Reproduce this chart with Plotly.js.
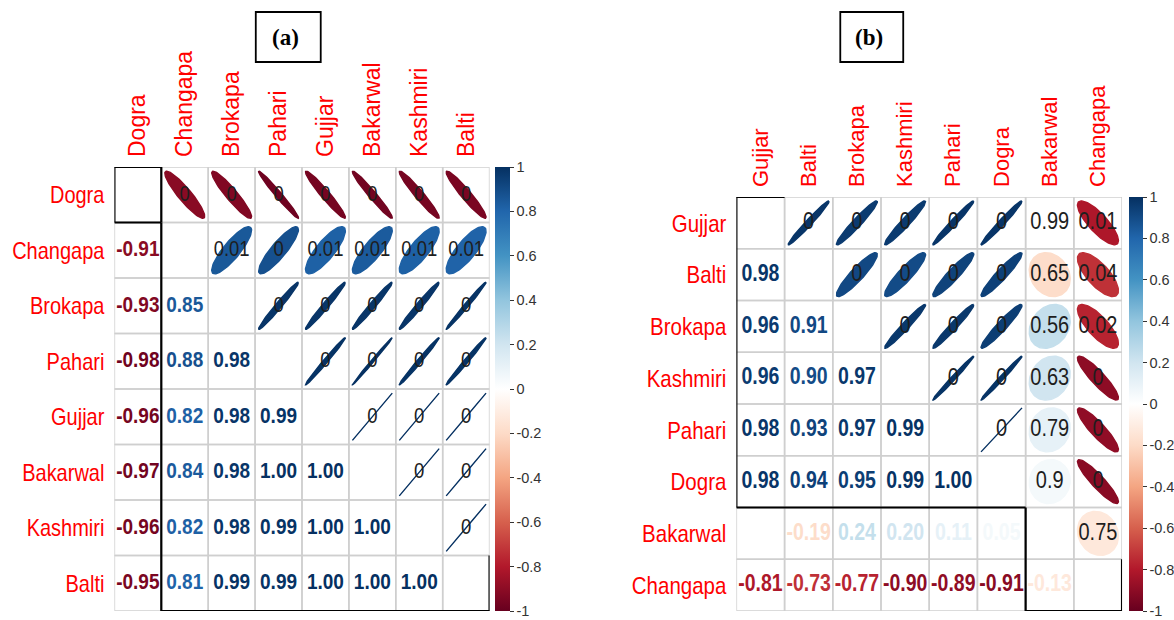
<!DOCTYPE html>
<html><head><meta charset="utf-8">
<script src="https://cdn.plot.ly/plotly-3.0.1.min.js"></script>
<style>html,body{margin:0;padding:0;background:#fff;}#chart{width:1174px;height:620px;}</style>
</head><body><div id="chart"></div>
<script>
// ---------- DATA ----------
// Panel (a)
const labelsA = ['Dogra','Changapa','Brokapa','Pahari','Gujjar','Bakarwal','Kashmiri','Balti'];
// lower triangle correlations, row i, columns 0..i-1
const corrA = [
  [],
  [-0.91],
  [-0.93, 0.85],
  [-0.98, 0.88, 0.98],
  [-0.96, 0.82, 0.98, 0.99],
  [-0.97, 0.84, 0.98, 0.996, 1.00],
  [-0.96, 0.82, 0.98, 0.99, 1.00, 1.00],
  [-0.95, 0.81, 0.99, 0.99, 1.00, 1.00, 1.00]
];
// upper triangle p-values, row i, columns i+1..n-1
const pvalA = [
  [0, 0, 0, 0, 0, 0, 0],
  [0.01, 0, 0.01, 0.01, 0.01, 0.01],
  [0, 0, 0, 0, 0],
  [0, 0, 0, 0],
  [0, 0, 0],
  [0, 0],
  [0],
  []
];
const clustersA = [[1,1],[2,8]];

// Panel (b)
const labelsB = ['Gujjar','Balti','Brokapa','Kashmiri','Pahari','Dogra','Bakarwal','Changapa'];
const corrB = [
  [],
  [0.98],
  [0.96, 0.91],
  [0.96, 0.90, 0.97],
  [0.98, 0.93, 0.97, 0.99],
  [0.98, 0.94, 0.95, 0.99, 1.00],
  [0.00, -0.19, 0.24, 0.20, 0.11, 0.05],
  [-0.81, -0.73, -0.77, -0.90, -0.89, -0.91, -0.13]
];
const pvalB = [
  [0, 0, 0, 0, 0, 0.99, 0.01],
  [0, 0, 0, 0, 0.65, 0.04],
  [0, 0, 0, 0.56, 0.02],
  [0, 0, 0.63, 0],
  [0, 0.79, 0],
  [0.9, 0],
  [0.75],
  []
];
const clustersB = [[1,6],[7,8]];

const cbTickVals = [-1, -0.8, -0.6, -0.4, -0.2, 0, 0.2, 0.4, 0.6, 0.8, 1];
const cbTickText = ['-1', '-0.8', '-0.6', '-0.4', '-0.2', '0', '0.2', '0.4', '0.6', '0.8', '1'];
const palette = ['#67001F','#B2182B','#D6604D','#F4A582','#FDDBC7','#FFFFFF','#D1E5F0','#92C5DE','#4393C3','#2166AC','#053061'];

// ---------- HELPERS ----------
function hexRgb(h){return [parseInt(h.slice(1,3),16),parseInt(h.slice(3,5),16),parseInt(h.slice(5,7),16)];}
function colorFor(v){
  const n = palette.length - 1;
  let t = (Math.max(-1, Math.min(1, v)) + 1) / 2 * n;
  let i = Math.min(Math.floor(t), n - 1);
  const f = t - i;
  const a = hexRgb(palette[i]), b = hexRgb(palette[i+1]);
  const c = a.map((x,k)=>Math.round(x + (b[k]-x)*f));
  return 'rgb(' + c.join(',') + ')';
}
const colorscale = palette.map((c,i)=>[i/(palette.length-1), c]);

function ellipse(cx, cy, rho){
  const d = Math.acos(Math.max(-1, Math.min(1, rho)));
  const xs = [], ys = [];
  for (let k = 0; k <= 98; k++){
    const t = 2*Math.PI*k/98;
    xs.push(cx + 0.85*Math.cos(t + d/2)/2);
    ys.push(cy - 0.85*Math.cos(t - d/2)/2);
  }
  return {xs, ys};
}

const FONT = 'Liberation Sans, Arial, sans-serif';
const traces = [];
const shapes = [];
const annotations = [];

function buildPanel(labels, corr, pval, clusters, xa, ya, opt){
  const n = labels.length;
  const r = (i,j) => i > j ? corr[i][j] : corr[j][i];
  for (let i = 0; i < n; i++) for (let j = 0; j < n; j++){
    shapes.push({type:'rect', xref:xa, yref:ya, layer:'below',
      x0:j+0.5, x1:j+1.5, y0:i+0.5, y1:i+1.5,
      line:{color:'#cfcfcf', width:1.5}, fillcolor:'rgba(0,0,0,0)'});
  }
  for (let i = 0; i < n; i++) for (let j = i+1; j < n; j++){
    const e = ellipse(j+1, i+1, r(i,j));
    const col = colorFor(r(i,j));
    traces.push({type:'scatter', mode:'lines', x:e.xs, y:e.ys, xaxis:xa, yaxis:ya,
      fill:'toself', fillcolor:col, line:{color:col, width:1.4},
      hoverinfo:'skip', showlegend:false});
  }
  const ux=[], uy=[], ut=[];
  for (let i = 0; i < n; i++) for (let j = i+1; j < n; j++){
    ux.push(j+1); uy.push(i+1); ut.push(String(pval[i][j-i-1]));
  }
  traces.push({type:'scatter', mode:'text', x:ux, y:uy, text:ut, xaxis:xa, yaxis:ya,
    textposition:'middle center', textfont:{family:FONT, size:opt.pSize, color:'#1e1e1e'},
    hoverinfo:'skip', showlegend:false});
  const lx=[], ly=[], lt=[], lc=[];
  for (let i = 0; i < n; i++) for (let j = 0; j < i; j++){
    lx.push(j+1); ly.push(i+1); lt.push(corr[i][j].toFixed(2)); lc.push(colorFor(corr[i][j]));
  }
  traces.push({type:'scatter', mode:'text', x:lx, y:ly, text:lt, xaxis:xa, yaxis:ya,
    textposition:'middle center', textfont:{family:FONT, size:opt.cSize, color:lc, weight:'bold'},
    hoverinfo:'skip', showlegend:false});
  const seg = (x0,y0,x1,y1)=>shapes.push({type:'line', xref:xa, yref:ya, x0,y0,x1,y1, line:{color:'#000', width:2.2}});
  clusters.forEach(([a,b])=>{
    seg(a-0.5, a-0.5, a-0.5, b+0.5);
    seg(a-0.5, b+0.5, b+0.5, b+0.5);
    if (a === 1) seg(a-0.5, a-0.5, a+0.5, a-0.5);
    if (b === n || a === b) seg(b+0.5, b-0.5, b+0.5, b+0.5);
  });
  traces.push({type:'scatter', mode:'markers', x:[1,1], y:[1,1], xaxis:xa, yaxis:ya,
    marker:{size:1, opacity:0, color:[-1,1], cmin:-1, cmax:1, colorscale:colorscale, showscale:true,
      colorbar:{x:opt.cbX, xanchor:'left', y:opt.cbY, yanchor:'bottom', len:opt.cbLen, lenmode:'fraction',
        thickness:opt.cbThick, xpad:0, ypad:0, outlinewidth:0, ticks:'outside', ticklen:4, tickwidth:1,
        tickcolor:'#333', tickvals:cbTickVals, ticktext:cbTickText, ticklabeloverflow:'allow',
        tickfont:{family:FONT, size:14.5, color:'#333'}}},
    hoverinfo:'skip', showlegend:false});
}

const W = 1174, H = 620;
const BOTTOM = 611;
buildPanel(labelsA, corrA, pvalA, clustersA, 'x', 'y',
  {pSize:18.5, cSize:19, cbX:495/W, cbY:1-BOTTOM/H, cbLen:(BOTTOM-167)/H, cbThick:15});
buildPanel(labelsB, corrB, pvalB, clustersB, 'x2', 'y2',
  {pSize:20, cSize:19.5, cbX:1129/W, cbY:1-BOTTOM/H, cbLen:(BOTTOM-197)/H, cbThick:14});

const ticks = labels => ({tickvals:labels.map((_,i)=>i+1), ticktext:labels});
function xAxis(labels, d0, d1, anchor, size){
  return Object.assign({domain:[d0/W, d1/W], range:[0.5, labels.length+0.5], anchor:anchor, side:'top',
    tickangle:-90, ticks:'', ticklabelstandoff:9, showgrid:false, zeroline:false, showline:false,
    tickfont:{family:FONT, size:size, color:'#ff0000'}, fixedrange:true}, ticks(labels));
}
function yAxis(labels, top, bottom, anchor, size){
  return Object.assign({domain:[1-bottom/H, 1-top/H], range:[labels.length+0.5, 0.5], anchor:anchor,
    ticks:'', ticklabelstandoff:9, showgrid:false, zeroline:false, showline:false,
    tickfont:{family:FONT, size:size, color:'#ff0000'}, fixedrange:true}, ticks(labels));
}

[['(a)', 256, 321], ['(b)', 841, 904]].forEach(([t, x0, x1])=>{
  shapes.push({type:'rect', xref:'paper', yref:'paper', x0:x0/W, x1:x1/W, y0:1-62/H, y1:1-12/H,
    line:{color:'#000', width:1.8}, fillcolor:'rgba(0,0,0,0)'});
  annotations.push({xref:'paper', yref:'paper', x:(x0+x1)/2/W - 3/W, y:1-37/H, text:t, showarrow:false,
    xanchor:'center', yanchor:'middle', font:{family:'Liberation Serif, Times New Roman, serif', size:23, color:'#000', weight:'bold'}});
});

const layout = {
  width:W, height:H, margin:{l:0, r:0, t:0, b:0}, paper_bgcolor:'#fff', plot_bgcolor:'#fff',
  showlegend:false, hovermode:false,
  xaxis: xAxis(labelsA, 114.5, 490, 'y', 23),
  yaxis: yAxis(labelsA, 167, BOTTOM, 'x', 20),
  xaxis2: xAxis(labelsB, 737, 1123, 'y2', 22),
  yaxis2: yAxis(labelsB, 197, BOTTOM, 'x2', 20.5),
  shapes: shapes, annotations: annotations
};
Plotly.newPlot('chart', traces, layout, {displayModeBar:false, staticPlot:true}).then(gd=>{
  // the reference figure is stretched vertically; stretch horizontal texts the same way
  const s = 1.2;
  gd.querySelectorAll('.textpoint text, .yaxislayer-above text').forEach(t=>{
    const bb = t.getBBox();
    const cx = bb.x + bb.width/2, cy = bb.y + bb.height/2;
    const prev = t.getAttribute('transform') || '';
    t.setAttribute('transform', prev + ' translate(' + cx + ',' + cy + ') scale(1,' + s + ') translate(' + (-cx) + ',' + (-cy) + ')');
  });
});
</script>
</body></html>
